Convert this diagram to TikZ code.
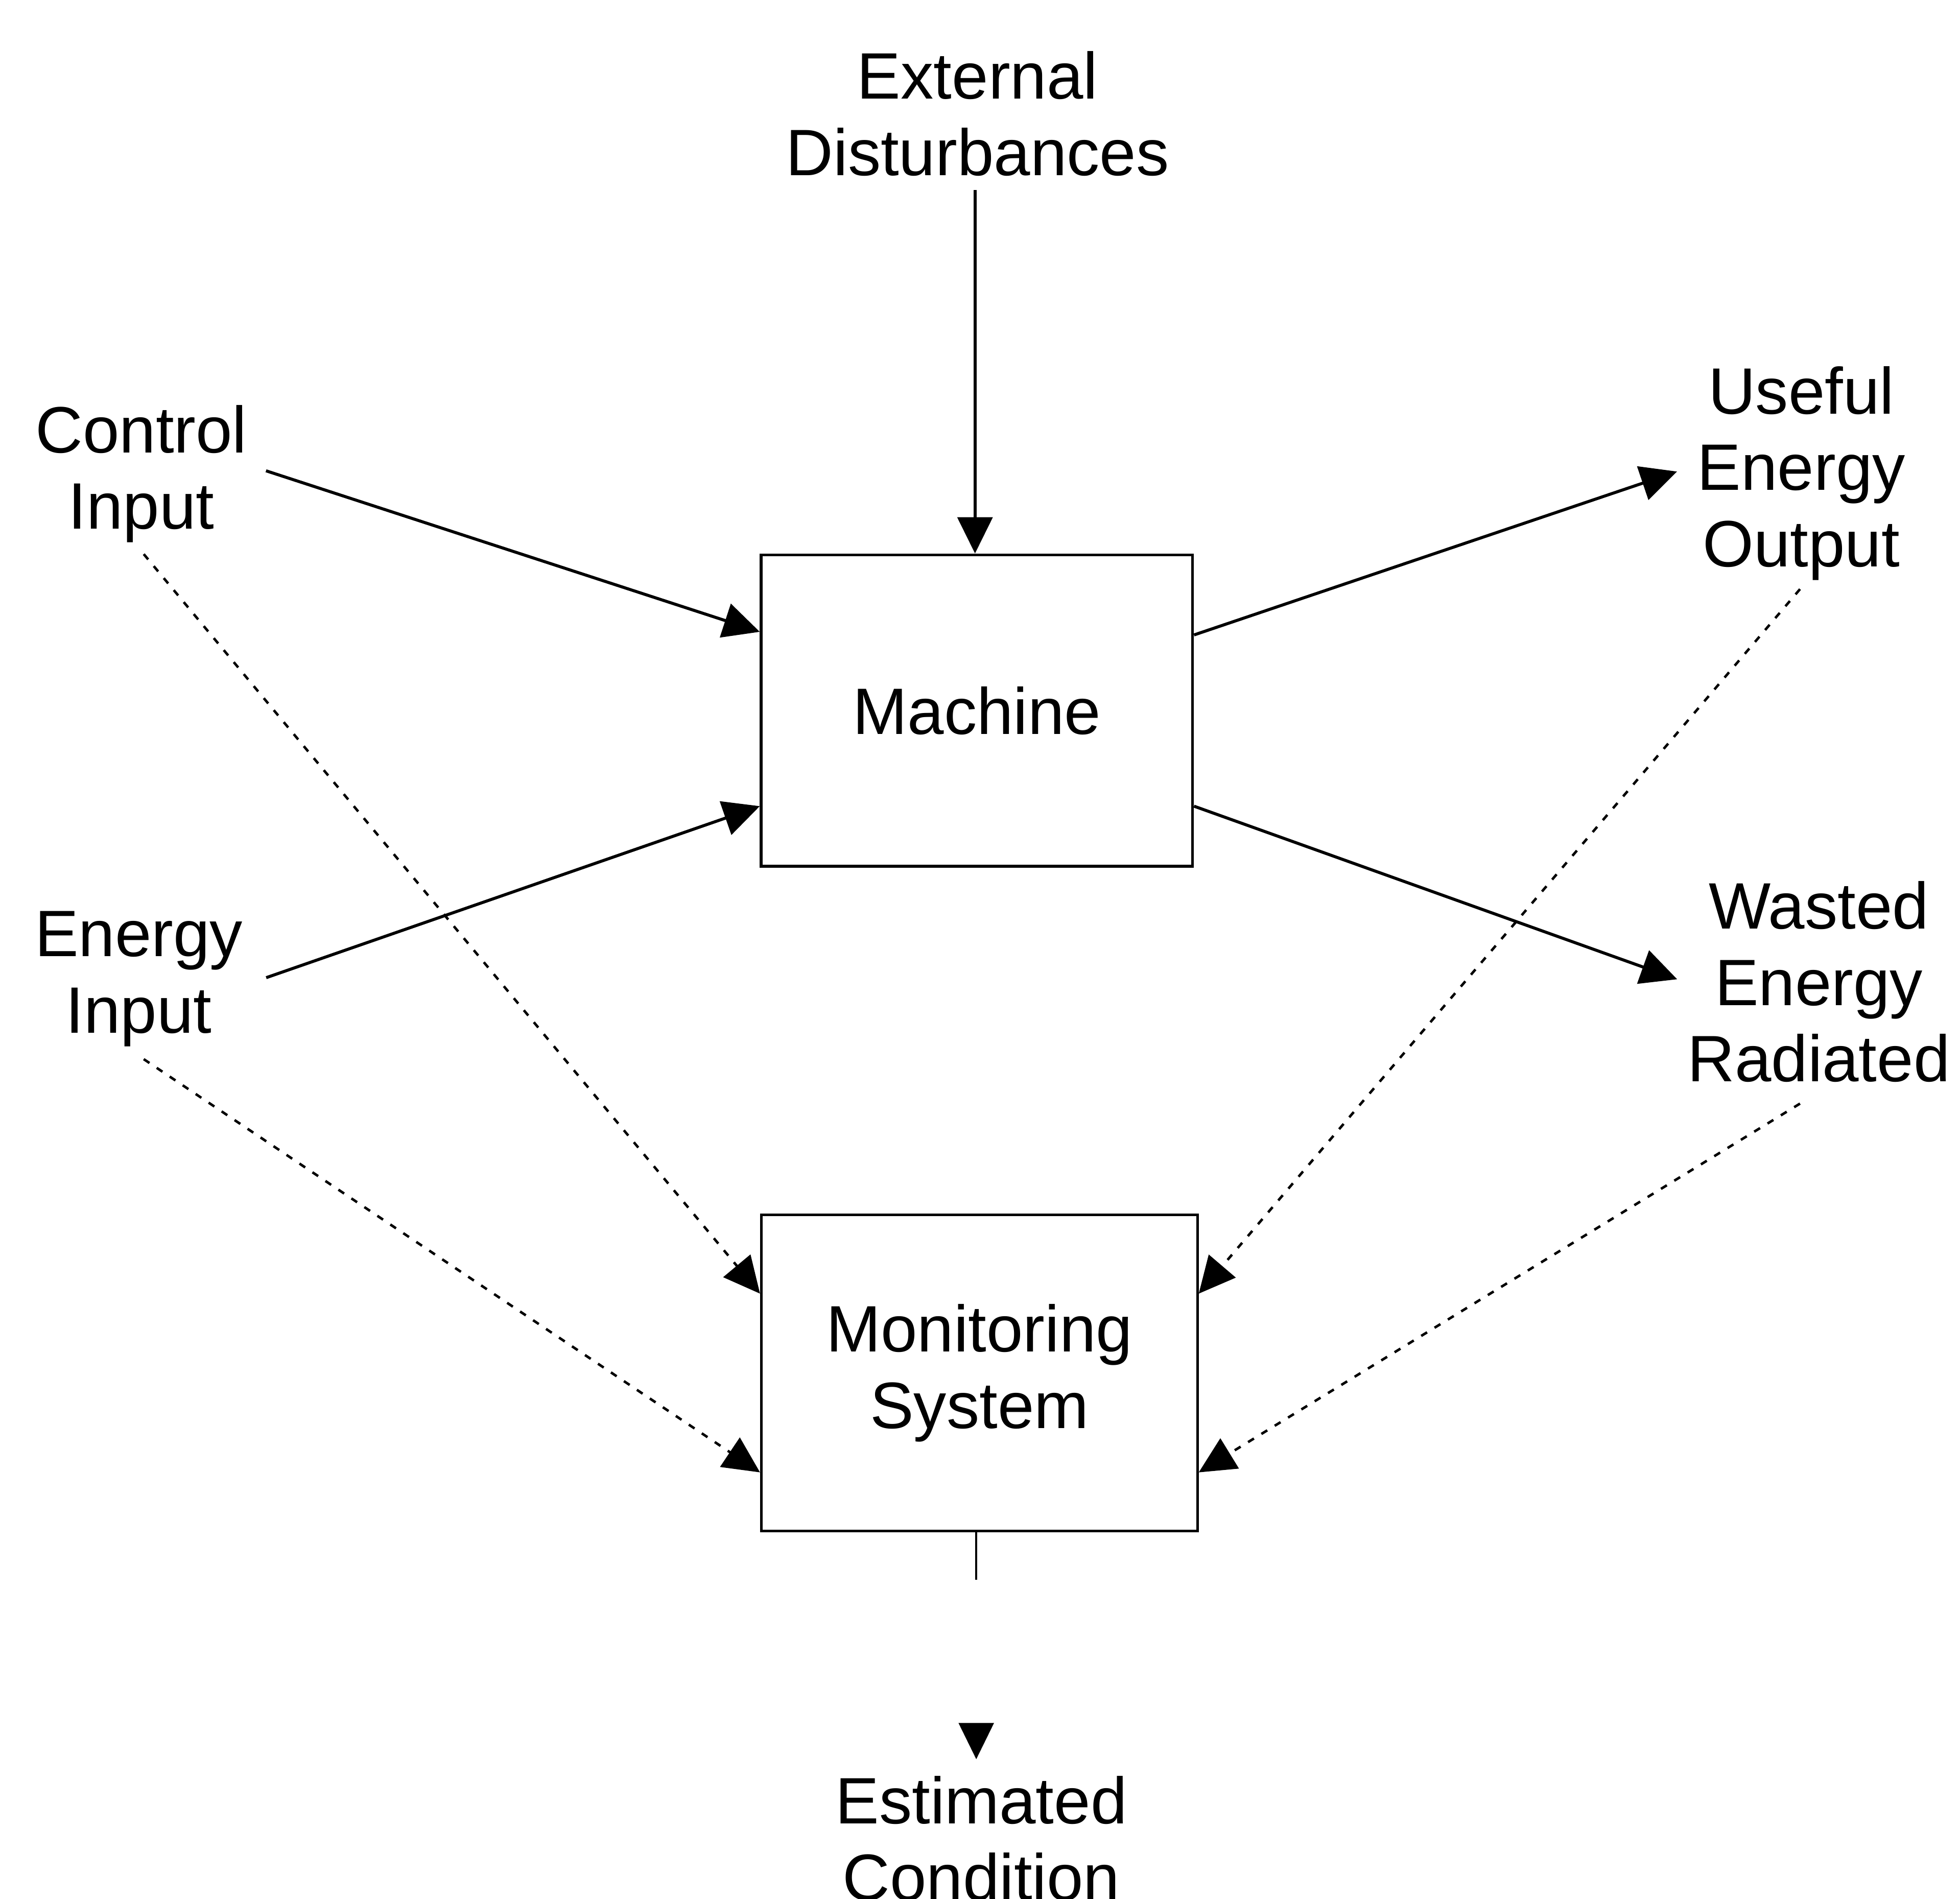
\documentclass[tikz,border=0pt]{standalone}
\usepackage{fontspec}
\setmainfont{Liberation Sans}
\usetikzlibrary{arrows.meta}
\begin{document}
\begin{tikzpicture}[x=1pt,y=-1pt,
  lbl/.style={align=center,inner sep=0pt,anchor=north,font=\fontsize{52.5}{61}\selectfont},
  blk/.style={draw,line width=2.4pt,inner sep=0pt,align=center,font=\fontsize{52.5}{61}\selectfont},
  flow/.style={line width=2.4pt,-{Triangle[length=29pt,width=28pt]}},
  sense/.style={line width=2pt,dash pattern=on 5.5pt off 7pt,-{Triangle[length=29pt,width=28pt]}},
  outflow/.style={line width=1.8pt,dash pattern=on 38pt off 300pt,-{Triangle[length=29pt,width=28pt]}}
]
\useasboundingbox (0,0) rectangle (1568,1519);
% blocks
\node[blk,minimum width=345pt,minimum height=249pt] (machine) at (781.5,568.5) {Machine};
\node[blk,line width=2pt,minimum width=349pt,minimum height=253pt] (mon) at (783.5,1098.5) {Monitoring\\System};
% labels
\node[lbl] (ext) at (782,41) {External\\Disturbances};
\node[lbl] (ctrl) at (113,324) {Control\\Input};
\node[lbl] (enin) at (111,729) {Energy\\Input};
\node[lbl] (useful) at (1441,293) {Useful\\Energy\\Output};
\node[lbl] (wasted) at (1455,705) {Wasted\\Energy\\Radiated};
\node[lbl] (est) at (785,1421) {Estimated\\Condition};
% solid flows
\draw[flow] ([xshift=-2pt,yshift=-11pt]ext.south) -- ([xshift=-2pt]ext.south |- machine.north);
\draw[flow] ([xshift=15pt,yshift=2.5pt]ctrl.east) -- ([yshift=63pt]machine.west);
\draw[flow] ([xshift=18.6pt,yshift=1pt]enin.east) -- ([yshift=-76.5pt]machine.west);
\draw[flow] ([yshift=60.5pt]machine.east) -- ([xshift=-16pt,yshift=1.4pt]useful.west);
\draw[flow] ([yshift=-76.5pt]machine.east) -- ([xshift=-8pt,yshift=2pt]wasted.west);
% sensed signals
\draw[sense] ([xshift=2pt,yshift=-9pt]ctrl.south) -- ([yshift=63.5pt]mon.west);
\draw[sense] ([xshift=4pt,yshift=-10pt]enin.south) -- ([yshift=-79.5pt]mon.west);
\draw[sense] ([xshift=-1pt,yshift=-7pt]useful.south) -- ([yshift=63.5pt]mon.east);
\draw[sense] ([xshift=-15pt,yshift=-17pt]wasted.south) -- ([yshift=-79.5pt]mon.east);
% output
\draw[outflow,shorten >=13.5pt] ([xshift=-2.5pt]mon.south) -- ([xshift=-2.5pt]mon.south |- est.north);
\end{tikzpicture}
\end{document}
